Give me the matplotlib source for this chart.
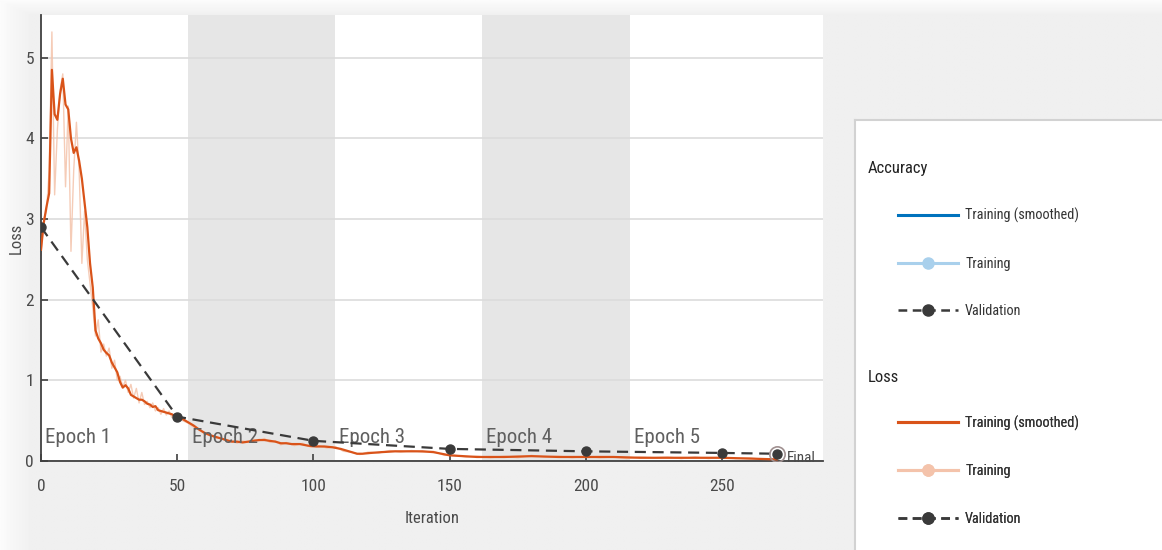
import matplotlib
matplotlib.use("Agg")
import matplotlib.pyplot as plt
import numpy as np
from matplotlib import font_manager as fm
from matplotlib.lines import Line2D

# ---------------- data ----------------
smooth_iter = [0, 1, 2, 3, 4, 5, 6, 7, 8, 9, 10, 11, 12, 13, 14, 15, 16, 17, 18, 19,
               20, 21, 22, 23, 24, 25, 26, 27, 28, 29, 30, 31, 32, 33, 34, 35, 36, 37, 38, 39,
               40, 41, 42, 43, 44, 45, 46, 47, 48, 49, 50, 52, 54, 56, 58, 60, 62, 64, 66, 68,
               70, 72, 74, 76, 78, 80, 82, 84, 86, 88, 90, 92, 95, 98, 101, 104, 107, 110, 113, 116,
               118, 121, 125, 130, 135, 140, 144, 147, 150, 155, 160, 170, 180, 190, 200, 210, 220, 230, 240, 250,
               260, 270]
smooth_loss = [2.62, 2.95, 3.15, 3.32, 4.85, 4.30, 4.23, 4.55, 4.74, 4.42, 4.36, 4.00, 3.82, 3.89, 3.72, 3.50, 3.20, 2.90, 2.45, 2.15,
               1.62, 1.52, 1.46, 1.38, 1.34, 1.31, 1.22, 1.16, 1.10, 0.98, 0.91, 0.94, 0.90, 0.82, 0.80, 0.78, 0.76, 0.76, 0.74, 0.71,
               0.70, 0.67, 0.68, 0.63, 0.62, 0.61, 0.60, 0.59, 0.58, 0.56, 0.55, 0.52, 0.48, 0.44, 0.39, 0.35, 0.32, 0.30, 0.28, 0.26,
               0.24, 0.24, 0.23, 0.24, 0.25, 0.26, 0.26, 0.25, 0.24, 0.22, 0.22, 0.21, 0.21, 0.19, 0.18, 0.18, 0.17, 0.15, 0.12, 0.09,
               0.09, 0.10, 0.11, 0.12, 0.12, 0.12, 0.11, 0.09, 0.07, 0.06, 0.05, 0.05, 0.06, 0.05, 0.05, 0.05, 0.04, 0.04, 0.04, 0.04,
               0.03, 0.02]

raw_iter = [0, 1, 2, 3, 4, 5, 6, 7, 8, 9, 10, 11, 12, 13, 14, 15, 16, 17, 18, 19,
            20, 21, 22, 23, 24, 25, 26, 27, 28, 29, 30, 31, 32, 33, 34, 35, 36, 37, 38, 39,
            40, 41, 42, 43, 44, 45, 46, 47, 48, 49, 50, 52, 54, 56, 58, 60, 62, 64, 66, 68,
            70, 72, 74, 76, 78, 80, 82, 84, 86, 88, 90, 93, 96, 99, 102, 105, 108, 111, 114, 117,
            120, 124, 128, 132, 136, 140, 144, 148, 152, 156, 160, 165, 170, 175, 180, 185, 190, 195, 200, 205,
            210, 215, 220, 225, 230, 235, 240, 245, 250, 255, 260, 265, 270]
raw_loss = [2.55, 3.00, 3.10, 3.60, 5.32, 3.30, 4.10, 4.60, 4.80, 3.40, 4.40, 2.60, 3.60, 4.20, 3.60, 2.45, 3.10, 2.50, 2.20, 1.90,
            1.55, 1.75, 1.35, 1.45, 1.30, 1.40, 1.15, 1.25, 1.00, 1.05, 0.92, 1.00, 0.85, 0.95, 0.78, 0.90, 0.72, 0.85, 0.70, 0.74,
            0.66, 0.72, 0.62, 0.66, 0.58, 0.65, 0.57, 0.62, 0.54, 0.58, 0.55, 0.50, 0.47, 0.42, 0.40, 0.33, 0.33, 0.28, 0.29, 0.25,
            0.25, 0.22, 0.25, 0.23, 0.27, 0.25, 0.28, 0.23, 0.25, 0.20, 0.23, 0.19, 0.22, 0.17, 0.19, 0.16, 0.18, 0.12, 0.11, 0.08,
            0.11, 0.10, 0.13, 0.11, 0.13, 0.11, 0.12, 0.07, 0.07, 0.05, 0.06, 0.04, 0.06, 0.04, 0.07, 0.05, 0.06, 0.04, 0.06, 0.04,
            0.05, 0.03, 0.05, 0.04, 0.05, 0.03, 0.05, 0.03, 0.05, 0.03, 0.04, 0.02, 0.02]

val_iter = [0, 50, 100, 150, 200, 250, 270]
val_loss = [2.90, 0.55, 0.25, 0.15, 0.12, 0.10, 0.09]

epoch_starts = [0, 54, 108, 162, 216]
epoch_labels = ["Epoch 1", "Epoch 2", "Epoch 3", "Epoch 4", "Epoch 5"]
last_iter = 270

x_ticks = [0, 50, 100, 150, 200, 250]
y_ticks = [0, 1, 2, 3, 4, 5]

legend_groups = ["Accuracy", "Loss"]
legend_labels = ["Training (smoothed)", "Training", "Validation"]

# ---------------- fonts ----------------
avail = {f.name for f in fm.fontManager.ttflist}
FONT = None
for cand in ["Liberation Sans Narrow", "Roboto Condensed", "Open Sans Condensed",
             "DejaVu Sans Condensed", "Noto Sans Condensed", "Arial Narrow"]:
    if cand in avail:
        FONT = cand
        break
narrow = FONT is not None
if FONT is None:
    FONT = "Liberation Sans"
k = 1.0 if narrow else 0.85
plt.rcParams["font.family"] = [FONT, "DejaVu Sans"]

# ---------------- colours ----------------
C_LOSS = "#D95319"
C_LOSS_RAW = "#F4C3AB"
C_ACC = "#0072BD"
C_ACC_RAW = "#A9D0EC"
C_VAL = "#3a3a3a"
C_TXT = "#4a4a4a"

fig = plt.figure(figsize=(11.62, 5.5), dpi=100, facecolor="#f0f0f0")
W, H = 1162, 550

# soft window shadow (background decoration)
bg = fig.add_axes([0, 0, 1, 1], zorder=-5)
bg.set_axis_off()
xs = np.linspace(0, W, 400)
ys = np.linspace(0, H, 200)
X, Y = np.meshgrid(xs, ys)
shade = np.minimum(np.clip(X / 30.0, 0, 1), np.clip(Y / 14.0, 0, 1))
img = 0.985 - (0.985 - 0.94) * shade
bg.imshow(img, cmap="gray", vmin=0, vmax=1, extent=(0, W, H, 0), aspect="auto")

ax = fig.add_axes([41 / W, 1 - 461 / H, (823 - 41) / W, (461 - 15) / H])
ax.set_facecolor("white")

ax.set_xlim(0, 287)
ax.set_ylim(0, 5.53)

# epoch bands
for i, s in enumerate(epoch_starts):
    e = epoch_starts[i + 1] if i + 1 < len(epoch_starts) else last_iter
    if i % 2 == 1:
        ax.axvspan(s, e, color="#e6e6e6", zorder=0.2, lw=0)

ax.set_axisbelow(True)
ax.yaxis.grid(True, color="#dcdcdc", lw=1.2)
ax.xaxis.grid(False)

ax.plot(raw_iter, raw_loss, color=C_LOSS_RAW, lw=1.0, alpha=0.85, zorder=2)
ax.plot(smooth_iter, smooth_loss, color=C_LOSS, lw=1.6, zorder=3)
ax.plot(val_iter, val_loss, color=C_VAL, lw=1.6, ls=(0, (5, 3)), marker="o",
        markersize=6.5, markerfacecolor=C_VAL, markeredgecolor=C_VAL, zorder=4)
ax.plot(val_iter[-1:], val_loss[-1:], ls="none", marker="o", markersize=11,
        markerfacecolor="none", markeredgecolor="#a09090", markeredgewidth=1.2, zorder=4)
ax.annotate("Final", (val_iter[-1], val_loss[-1]), xytext=(7, -3), textcoords="offset points",
            fontsize=11 * k, color=C_TXT, va="center", ha="left")

for s, lab in zip(epoch_starts, epoch_labels):
    ax.text(s + 1.5, 0.22, lab, fontsize=15 * k, color="#606060", va="baseline", ha="left", zorder=3.5)

ax.set_xticks(x_ticks)
ax.set_yticks(y_ticks)
ax.tick_params(direction="in", length=5, width=1.2, color="#404040", labelcolor=C_TXT,
               labelsize=12.5 * k)
ax.tick_params(axis="x", pad=13)
ax.tick_params(axis="y", pad=5)
for sp in ["top", "right"]:
    ax.spines[sp].set_visible(False)
for sp in ["left", "bottom"]:
    ax.spines[sp].set_color("#404040")
    ax.spines[sp].set_linewidth(1.3)
ax.set_xlabel("Iteration", fontsize=12 * k, color=C_TXT, labelpad=12)
ax.set_ylabel("Loss", fontsize=12 * k, color=C_TXT, labelpad=1)

# ---------------- legend panel ----------------
lax = fig.add_axes([855 / W, 0, (W - 855) / W, (550 - 120) / H])
lax.set_facecolor("white")
lax.set_xticks([])
lax.set_yticks([])
for sp in ["right", "bottom"]:
    lax.spines[sp].set_visible(False)
for sp in ["top", "left"]:
    lax.spines[sp].set_color("#d2d2d2")
    lax.spines[sp].set_linewidth(1.5)

group_handles = [
    [Line2D([], [], color=C_ACC, lw=2.2),
     Line2D([], [], color=C_ACC_RAW, lw=2.2, marker="o", markersize=8, markerfacecolor=C_ACC_RAW, markeredgecolor=C_ACC_RAW),
     Line2D([], [], color=C_VAL, lw=1.8, ls=(0, (3.5, 2.2)), marker="o", markersize=8, markerfacecolor=C_VAL, markeredgecolor=C_VAL)],
    [Line2D([], [], color=C_LOSS, lw=2.2),
     Line2D([], [], color=C_LOSS_RAW, lw=2.2, marker="o", markersize=8, markerfacecolor=C_LOSS_RAW, markeredgecolor=C_LOSS_RAW),
     Line2D([], [], color=C_VAL, lw=1.8, ls=(0, (3.5, 2.2)), marker="o", markersize=8, markerfacecolor=C_VAL, markeredgecolor=C_VAL)],
]
title_y = [0.888, 0.400]
legend_y = [0.667, 0.185]
fs_leg = 10.3 * k
for g, hs, ty, ly in zip(legend_groups, group_handles, title_y, legend_y):
    lax.text(0.042, ty, g, transform=lax.transAxes, fontsize=12 * k, color="#222222",
             va="center", ha="left")
    leg = lax.legend(hs, legend_labels, loc="center left", bbox_to_anchor=(0.140, ly),
                     bbox_transform=lax.transAxes, frameon=False, fontsize=fs_leg,
                     handlelength=60 / (fs_leg * 1.389), handletextpad=0.5, labelspacing=2.35,
                     borderpad=0, borderaxespad=0, numpoints=1, labelcolor="#333333")
    lax.add_artist(leg)

fig.savefig("out.png", dpi=100, facecolor=fig.get_facecolor())
